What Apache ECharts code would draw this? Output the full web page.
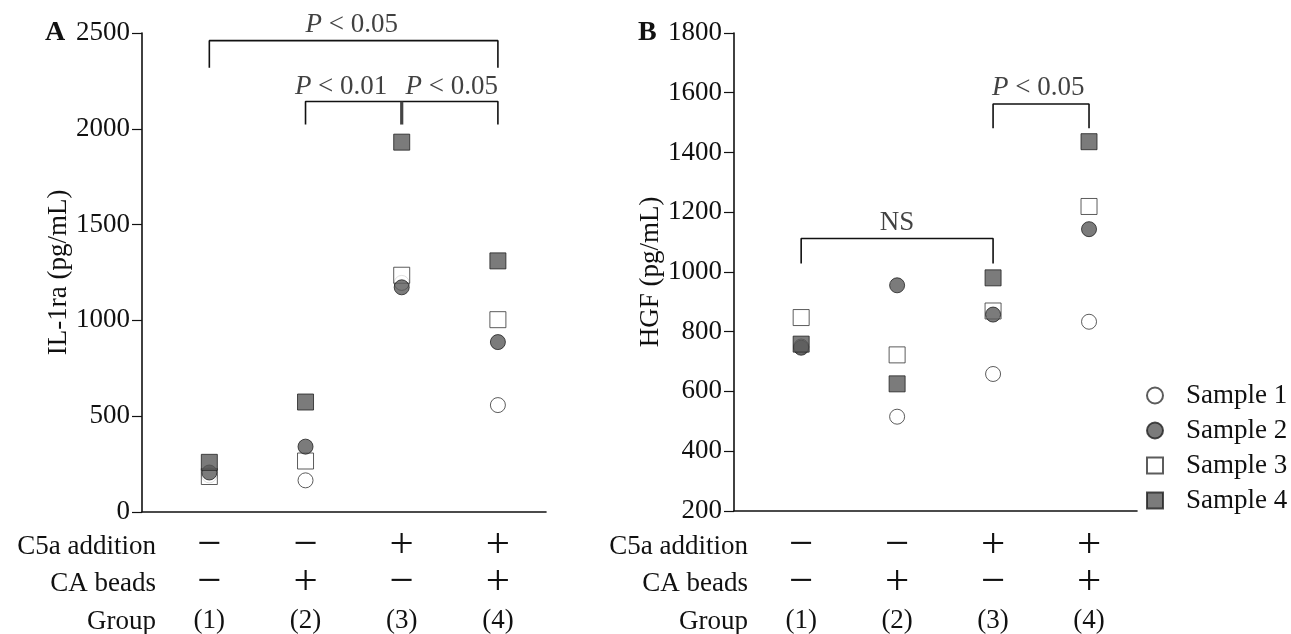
<!DOCTYPE html>
<html>
<head>
<meta charset="utf-8">
<script src="https://cdn.jsdelivr.net/npm/echarts@6/dist/echarts.min.js"></script>
<style>
  html, body { margin: 0; padding: 0; background: #fff; }
  #chart { width: 1291px; height: 634px; }
</style>
</head>
<body>
<div id="chart"></div>
<script>
// groups (1)-(4)
var groupX = [1, 2, 3, 4];
var groupLabels = ['(1)', '(2)', '(3)', '(4)'];
var c5aSigns = ['\u2212', '\u2212', '+', '+'];
var beadSigns = ['\u2212', '+', '\u2212', '+'];
var rowNames = ['C5a addition', 'CA beads', 'Group'];
var sampleNames = ['Sample 1', 'Sample 2', 'Sample 3', 'Sample 4'];

// A: IL-1ra (pg/mL)
var il1raS1 = [190, 164, 1195, 557];
var il1raS2 = [205, 340, 1172, 886];
var il1raS3 = [184, 265, 1235, 1003];
var il1raS4 = [258, 573, 1930, 1310];
var yTicksA = [0, 500, 1000, 1500, 2000, 2500];

// B: HGF (pg/mL)
var hgfS1 = [750, 515, 658, 833];
var hgfS2 = [746, 955, 857, 1143];
var hgfS3 = [847, 722, 869, 1219];
var hgfS4 = [758, 625, 980, 1436];
var yTicksB = [200, 400, 600, 800, 1000, 1200, 1400, 1600, 1800];

// significance brackets [x, y] and labels
var bracketA1 = [[1, 2319], [1, 2460], [4, 2460], [4, 2319]];
var bracketA2 = [[2, 2022], [2, 2142], [4, 2142], [4, 2022]];
var bracketA2mid = [[3, 2142], [3, 2022]];
var labelsA = [
  {value: [2.48, 2543], name: '0.05'},
  {value: [2.37, 2220], name: '0.01'},
  {value: [3.52, 2220], name: '0.05'}
];
var bracketB1 = [[1, 1028], [1, 1112], [3, 1112], [3, 1028]];
var bracketB2 = [[3, 1481], [3, 1562], [4, 1562], [4, 1481]];
var labelsB = [
  {value: [2.0, 1165], name: 'NS'},
  {value: [3.47, 1617], name: '0.05'}
];

var FONT = '"Liberation Serif", "Times New Roman", serif';
var INK = '#111';
var DARK = '#5a5a5a';

var chart = echarts.init(document.getElementById('chart'));

function pts(vals) {
  return groupX.map(function (x, i) { return [x, vals[i]]; });
}

var markerStyles = [
  {symbol: 'circle', symbolSize: 15, itemStyle: {color: '#fff', borderColor: '#333', borderWidth: 1}, z: 2},
  {symbol: 'circle', symbolSize: 15, itemStyle: {color: DARK, borderColor: '#222', borderWidth: 1}, z: 4},
  {symbol: 'rect', symbolSize: 16, itemStyle: {color: '#fff', borderColor: '#333', borderWidth: 1}, z: 3},
  {symbol: 'rect', symbolSize: 16, itemStyle: {color: DARK, borderColor: '#222', borderWidth: 1}, z: 5}
];

function sampleSeries(idx, lists) {
  return lists.map(function (vals, k) {
    var m = markerStyles[k];
    return {
      name: sampleNames[k], type: 'scatter', xAxisIndex: idx, yAxisIndex: idx,
      symbol: m.symbol, symbolSize: m.symbolSize, itemStyle: m.itemStyle, z: m.z,
      data: pts(vals), emphasis: {disabled: true}
    };
  });
}

function bracket(idx, data, w, c) {
  return {
    type: 'line', xAxisIndex: idx, yAxisIndex: idx, data: data, clip: false,
    symbol: 'none', silent: true, z: 6,
    lineStyle: {color: c || INK, width: w || 1.6}
  };
}

function textSeries(idx, data) {
  return {
    type: 'scatter', xAxisIndex: idx, yAxisIndex: idx, data: data, clip: false,
    symbolSize: 1, itemStyle: {color: 'transparent'}, silent: true, z: 7,
    label: {
      show: true, position: 'inside', color: INK, fontFamily: FONT, fontSize: 27,
      textBorderWidth: 0,
      formatter: function (p) { return p.name === 'NS' ? 'NS' : '{i|P} < ' + p.name; },
      rich: {i: {fontStyle: 'italic', fontFamily: FONT, fontSize: 27, color: INK, textBorderWidth: 0}}
    }
  };
}

function xAxisFor(idx, margin) {
  return {
    type: 'value', gridIndex: idx, min: 0.3, max: 4.5,
    axisLine: {show: true, lineStyle: {color: INK, width: 1.6}},
    axisTick: {show: false},
    splitLine: {show: false},
    axisLabel: {
      show: true, customValues: groupX, margin: margin, color: INK, fontFamily: FONT,
      formatter: function (v) {
        var i = groupX.indexOf(Math.round(v));
        return '{s|' + c5aSigns[i] + '}\n{s|' + beadSigns[i] + '}\n{g|' + groupLabels[i] + '}';
      },
      rich: {
        s: {fontSize: 43, lineHeight: 37.5, fontFamily: FONT, color: INK},
        g: {fontSize: 27, lineHeight: 37.5, fontFamily: FONT, color: INK}
      }
    }
  };
}

function yAxisFor(idx, min, max, step, name, gap) {
  return {
    type: 'value', gridIndex: idx, min: min, max: max, interval: step,
    name: name, nameLocation: 'middle', nameGap: gap, nameRotate: 90,
    nameTextStyle: {fontFamily: FONT, fontSize: 27, color: INK},
    axisLine: {show: true, lineStyle: {color: INK, width: 1.6}},
    axisTick: {show: true, inside: false, length: 10, lineStyle: {color: INK, width: 1.2}},
    axisLabel: {
      margin: 12, fontFamily: FONT, fontSize: 27, color: INK,
      formatter: function (v) { return String(v); }
    },
    splitLine: {show: false}
  };
}

function rowText(x, y, txt) {
  return {
    type: 'text', x: x, y: y, silent: true,
    style: {text: txt, font: '27px ' + FONT, fill: INK, align: 'right', verticalAlign: 'middle'}
  };
}

var rowY = [547, 584, 622];
var graphics = [
  {type: 'text', x: 45, y: 33, style: {text: 'A', font: 'bold 28px ' + FONT, fill: INK, verticalAlign: 'middle'}},
  {type: 'text', x: 638, y: 33, style: {text: 'B', font: 'bold 28px ' + FONT, fill: INK, verticalAlign: 'middle'}}
];
rowNames.forEach(function (r, i) {
  graphics.push(rowText(156, rowY[i], r));
  graphics.push(rowText(748, rowY[i], r));
});

var option = {
  animation: false,
  backgroundColor: '#fff',
  grid: [
    {left: 142, width: 404, top: 33, height: 480},
    {left: 734, width: 403, top: 33, height: 479}
  ],
  xAxis: [xAxisFor(0, 15), xAxisFor(1, 16)],
  yAxis: [
    yAxisFor(0, yTicksA[0], yTicksA[yTicksA.length - 1], 500, 'IL-1ra (pg/mL)', 63),
    yAxisFor(1, yTicksB[0], yTicksB[yTicksB.length - 1], 200, 'HGF (pg/mL)', 67)
  ],
  legend: {
    data: sampleNames, orient: 'vertical', left: 1141, top: 377,
    itemWidth: 16, itemHeight: 16, itemGap: 8,
    textStyle: {fontFamily: FONT, fontSize: 27, color: INK, padding: [0, 0, 0, 18]},
    selectedMode: false
  },
  graphic: graphics,
  series: [].concat(
    sampleSeries(0, [il1raS1, il1raS2, il1raS3, il1raS4]),
    sampleSeries(1, [hgfS1, hgfS2, hgfS3, hgfS4]),
    [
      bracket(0, bracketA1), bracket(0, bracketA2), bracket(0, bracketA2mid, 3.2, '#444'),
      textSeries(0, labelsA),
      bracket(1, bracketB1), bracket(1, bracketB2),
      textSeries(1, labelsB)
    ]
  )
};

chart.setOption(option);
</script>
</body>
</html>
